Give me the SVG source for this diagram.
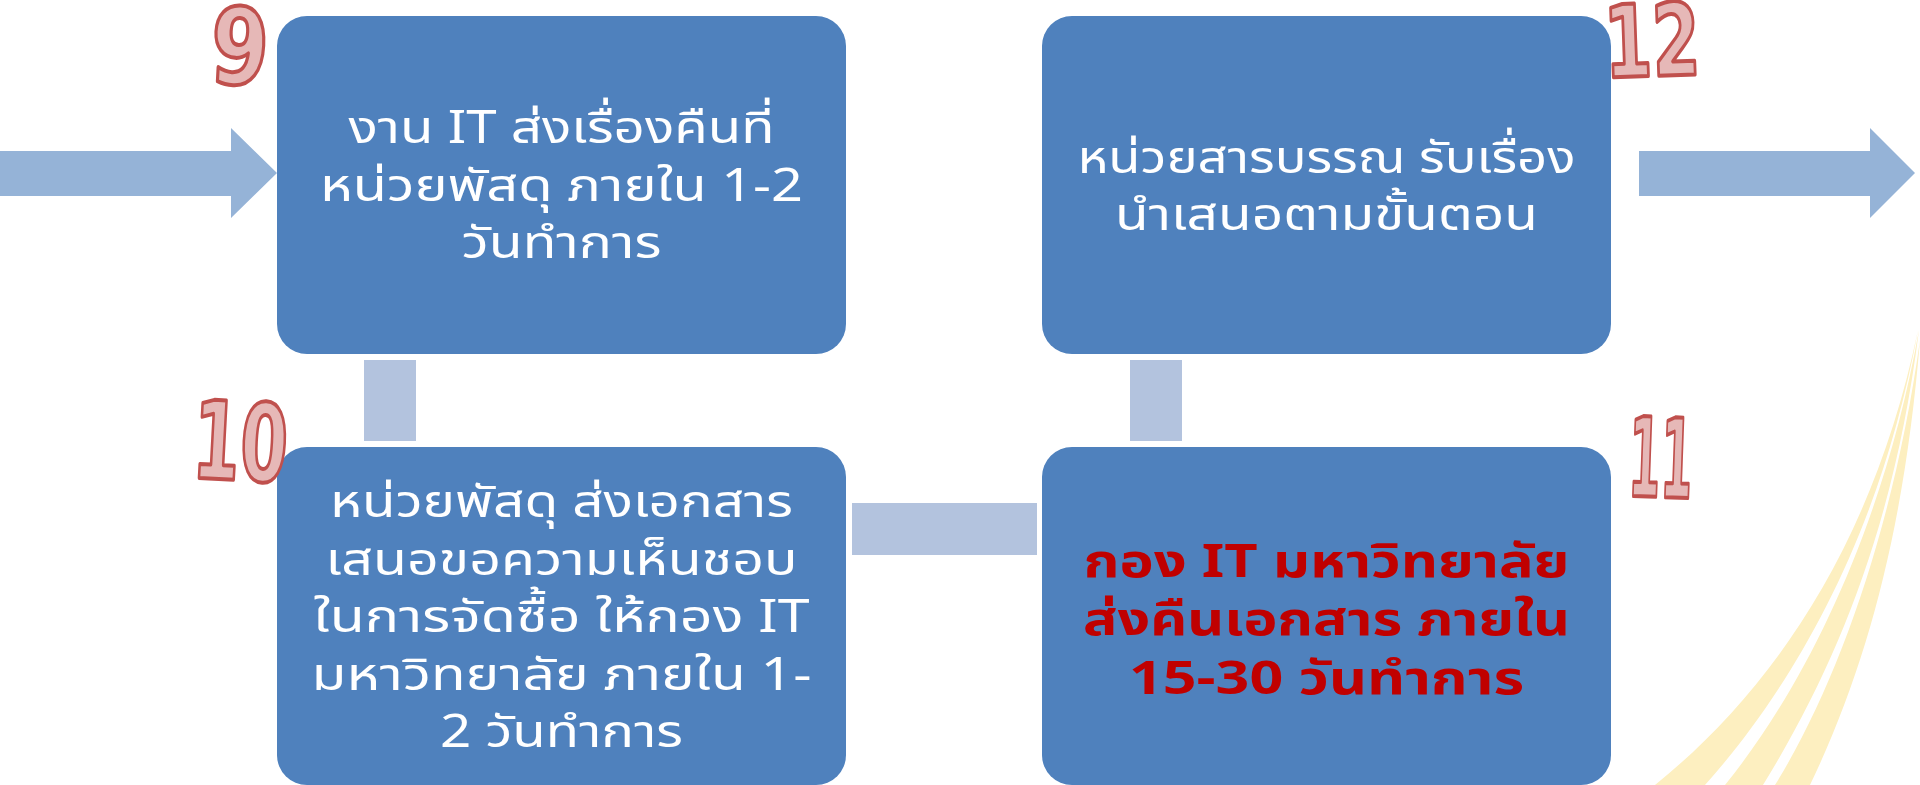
<svg xmlns="http://www.w3.org/2000/svg" width="1920" height="785" viewBox="0 0 1920 785">
<style>
.box{fill:#4F81BD}
.conn{fill:#B3C3DE}
.arrow{fill:#95B3D7}
.swoosh{fill:#FDEFC0}
.t{font-family:Tahoma,"Noto Sans Thai","Noto Sans","DejaVu Sans",sans-serif;font-size:45px;fill:#FFFFFF;text-anchor:middle}
.tb{font-family:Tahoma,"Noto Sans Thai","Noto Sans","DejaVu Sans",sans-serif;font-size:46px;font-weight:bold;fill:#C00000;text-anchor:middle}
.badge{font-family:"DejaVu Sans","Liberation Sans",sans-serif;font-weight:bold;fill:#E6B8B7;stroke:#C0504D;stroke-width:4;stroke-linejoin:round}
</style>
<rect width="1920" height="785" fill="#FFFFFF"/>
<g id="swooshes">
<path class="swoosh" d="M1655,785 C1760,700 1870,560 1918,330 C1880,540 1790,690 1705,785 Z"/>
<path class="swoosh" d="M1725,785 C1810,680 1885,520 1919,330 C1895,520 1840,660 1763,785 Z"/>
<path class="swoosh" d="M1775,785 C1840,680 1895,520 1920,340 C1905,520 1870,660 1810,785 Z"/>
</g>
<g id="connectors">
<polygon class="arrow" points="0,151 231,151 231,128 277,173 231,218 231,196 0,196"/>
<polygon class="arrow" points="1639,151 1870,151 1870,128 1915,173 1870,218 1870,196 1639,196"/>
<rect class="conn" x="364" y="360" width="52" height="81"/>
<rect class="conn" x="1130" y="360" width="52" height="81"/>
<rect class="conn" x="852" y="503" width="185" height="52"/>
</g>
<g id="node9">
<rect class="box" x="277" y="16" width="569" height="338" rx="30"/>
<text class="t" x="561.5" y="143" textLength="426" lengthAdjust="spacingAndGlyphs">งาน IT ส่งเรื่องคืนที่</text>
<text class="t" x="561.5" y="201" textLength="483" lengthAdjust="spacingAndGlyphs">หน่วยพัสดุ ภายใน 1-2</text>
<text class="t" x="561.5" y="258" textLength="200" lengthAdjust="spacingAndGlyphs">วันทำการ</text>
</g>
<g id="node12">
<rect class="box" x="1042" y="16" width="569" height="338" rx="30"/>
<text class="t" x="1326.5" y="173" textLength="498" lengthAdjust="spacingAndGlyphs">หน่วยสารบรรณ รับเรื่อง</text>
<text class="t" x="1326.5" y="230" textLength="423" lengthAdjust="spacingAndGlyphs">นำเสนอตามขั้นตอน</text>
</g>
<g id="node10">
<rect class="box" x="277" y="447" width="569" height="338" rx="30"/>
<text class="t" x="561.5" y="517" textLength="463" lengthAdjust="spacingAndGlyphs">หน่วยพัสดุ ส่งเอกสาร</text>
<text class="t" x="561.5" y="575" textLength="472" lengthAdjust="spacingAndGlyphs">เสนอขอความเห็นชอบ</text>
<text class="t" x="561.5" y="632" textLength="496" lengthAdjust="spacingAndGlyphs">ในการจัดซื้อ ให้กอง IT</text>
<text class="t" x="561.5" y="690" textLength="500" lengthAdjust="spacingAndGlyphs">มหาวิทยาลัย ภายใน 1-</text>
<text class="t" x="561.5" y="747" textLength="243" lengthAdjust="spacingAndGlyphs">2 วันทำการ</text>
</g>
<g id="node11">
<rect class="box" x="1042" y="447" width="569" height="338" rx="30"/>
<text class="tb" x="1326.5" y="577" textLength="486" lengthAdjust="spacingAndGlyphs">กอง IT มหาวิทยาลัย</text>
<text class="tb" x="1326.5" y="635" textLength="487" lengthAdjust="spacingAndGlyphs">ส่งคืนเอกสาร ภายใน</text>
<text class="tb" x="1326.5" y="694" textLength="395" lengthAdjust="spacingAndGlyphs">15-30 วันทำการ</text>
</g>
<g id="badges">
<text class="badge" x="211" y="84" font-size="106" textLength="58" lengthAdjust="spacingAndGlyphs" transform="rotate(3 240 44)">9</text>
<text class="badge" x="193" y="480" font-size="108" textLength="95" lengthAdjust="spacingAndGlyphs" transform="rotate(3 240 440)">10</text>
<text class="badge" x="1629" y="497" font-size="110" textLength="64" lengthAdjust="spacingAndGlyphs" transform="rotate(2 1661 456)">11</text>
<text class="badge" x="1604" y="76" font-size="100" textLength="96" lengthAdjust="spacingAndGlyphs" transform="rotate(-2 1651 40)">12</text>
</g>
</svg>
